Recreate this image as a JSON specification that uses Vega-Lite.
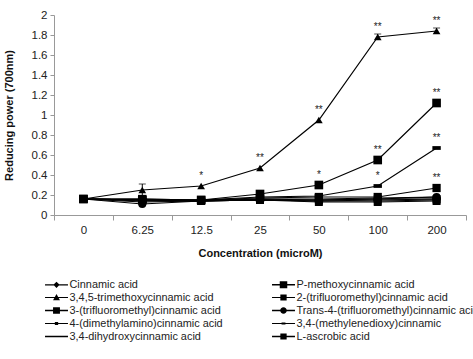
{
  "$schema": "https://vega.github.io/schema/vega-lite/v6.json",
  "width": 412,
  "height": 200,
  "autosize": "none",
  "padding": {"left": 54, "top": 15, "right": 7, "bottom": 144},
  "background": "white",
  "config": {
    "view": {"stroke": null},
    "font": "Liberation Sans",
    "axis": {
      "labelFont": "Liberation Sans",
      "titleFont": "Liberation Sans",
      "labelFontSize": 11.5,
      "titleFontSize": 11,
      "titleFontWeight": "bold",
      "labelColor": "#222",
      "titleColor": "#111",
      "domainColor": "#999",
      "tickColor": "#999",
      "grid": false
    },
    "axisY": {"labelOverlap": false},
    "legend": {
      "labelFont": "Liberation Sans",
      "labelFontSize": 10.9,
      "labelColor": "#222"
    }
  },
  "data": {
    "values": [
      {"s": "Cinnamic acid", "i": 0, "c": "0", "v": 0.16},
      {"s": "Cinnamic acid", "i": 1, "c": "6.25", "v": 0.15},
      {"s": "Cinnamic acid", "i": 2, "c": "12.5", "v": 0.14},
      {"s": "Cinnamic acid", "i": 3, "c": "25", "v": 0.16},
      {"s": "Cinnamic acid", "i": 4, "c": "50", "v": 0.16},
      {"s": "Cinnamic acid", "i": 5, "c": "100", "v": 0.17},
      {"s": "Cinnamic acid", "i": 6, "c": "200", "v": 0.18},

      {"s": "P-methoxycinnamic acid", "i": 0, "c": "0", "v": 0.16},
      {"s": "P-methoxycinnamic acid", "i": 1, "c": "6.25", "v": 0.14},
      {"s": "P-methoxycinnamic acid", "i": 2, "c": "12.5", "v": 0.14},
      {"s": "P-methoxycinnamic acid", "i": 3, "c": "25", "v": 0.15},
      {"s": "P-methoxycinnamic acid", "i": 4, "c": "50", "v": 0.14},
      {"s": "P-methoxycinnamic acid", "i": 5, "c": "100", "v": 0.14},
      {"s": "P-methoxycinnamic acid", "i": 6, "c": "200", "v": 0.15},

      {"s": "3,4,5-trimethoxycinnamic acid", "i": 0, "c": "0", "v": 0.16},
      {"s": "3,4,5-trimethoxycinnamic acid", "i": 1, "c": "6.25", "v": 0.25, "lo": 0.19, "hi": 0.31},
      {"s": "3,4,5-trimethoxycinnamic acid", "i": 2, "c": "12.5", "v": 0.29, "sig": "*"},
      {"s": "3,4,5-trimethoxycinnamic acid", "i": 3, "c": "25", "v": 0.47, "sig": "**"},
      {"s": "3,4,5-trimethoxycinnamic acid", "i": 4, "c": "50", "v": 0.95, "sig": "**"},
      {"s": "3,4,5-trimethoxycinnamic acid", "i": 5, "c": "100", "v": 1.78, "lo": 1.75, "hi": 1.81, "sig": "**"},
      {"s": "3,4,5-trimethoxycinnamic acid", "i": 6, "c": "200", "v": 1.84, "lo": 1.81, "hi": 1.87, "sig": "**"},

      {"s": "2-(trifluoromethyl)cinnamic acid", "i": 0, "c": "0", "v": 0.16},
      {"s": "2-(trifluoromethyl)cinnamic acid", "i": 1, "c": "6.25", "v": 0.16},
      {"s": "2-(trifluoromethyl)cinnamic acid", "i": 2, "c": "12.5", "v": 0.15},
      {"s": "2-(trifluoromethyl)cinnamic acid", "i": 3, "c": "25", "v": 0.16},
      {"s": "2-(trifluoromethyl)cinnamic acid", "i": 4, "c": "50", "v": 0.15},
      {"s": "2-(trifluoromethyl)cinnamic acid", "i": 5, "c": "100", "v": 0.16},
      {"s": "2-(trifluoromethyl)cinnamic acid", "i": 6, "c": "200", "v": 0.16},

      {"s": "3-(trifluoromethyl)cinnamic acid", "i": 0, "c": "0", "v": 0.16},
      {"s": "3-(trifluoromethyl)cinnamic acid", "i": 1, "c": "6.25", "v": 0.15},
      {"s": "3-(trifluoromethyl)cinnamic acid", "i": 2, "c": "12.5", "v": 0.14},
      {"s": "3-(trifluoromethyl)cinnamic acid", "i": 3, "c": "25", "v": 0.15},
      {"s": "3-(trifluoromethyl)cinnamic acid", "i": 4, "c": "50", "v": 0.13},
      {"s": "3-(trifluoromethyl)cinnamic acid", "i": 5, "c": "100", "v": 0.13},
      {"s": "3-(trifluoromethyl)cinnamic acid", "i": 6, "c": "200", "v": 0.14},

      {"s": "Trans-4-(trifluoromethyl)cinnamic acid", "i": 0, "c": "0", "v": 0.16},
      {"s": "Trans-4-(trifluoromethyl)cinnamic acid", "i": 1, "c": "6.25", "v": 0.11},
      {"s": "Trans-4-(trifluoromethyl)cinnamic acid", "i": 2, "c": "12.5", "v": 0.14},
      {"s": "Trans-4-(trifluoromethyl)cinnamic acid", "i": 3, "c": "25", "v": 0.15},
      {"s": "Trans-4-(trifluoromethyl)cinnamic acid", "i": 4, "c": "50", "v": 0.15},
      {"s": "Trans-4-(trifluoromethyl)cinnamic acid", "i": 5, "c": "100", "v": 0.16},
      {"s": "Trans-4-(trifluoromethyl)cinnamic acid", "i": 6, "c": "200", "v": 0.18},

      {"s": "4-(dimethylamino)cinnamic acid", "i": 0, "c": "0", "v": 0.16},
      {"s": "4-(dimethylamino)cinnamic acid", "i": 1, "c": "6.25", "v": 0.16},
      {"s": "4-(dimethylamino)cinnamic acid", "i": 2, "c": "12.5", "v": 0.15},
      {"s": "4-(dimethylamino)cinnamic acid", "i": 3, "c": "25", "v": 0.17},
      {"s": "4-(dimethylamino)cinnamic acid", "i": 4, "c": "50", "v": 0.18},
      {"s": "4-(dimethylamino)cinnamic acid", "i": 5, "c": "100", "v": 0.18},
      {"s": "4-(dimethylamino)cinnamic acid", "i": 6, "c": "200", "v": 0.27, "sig": "**"},

      {"s": "3,4-(methylenedioxy)cinnamic", "i": 0, "c": "0", "v": 0.16},
      {"s": "3,4-(methylenedioxy)cinnamic", "i": 1, "c": "6.25", "v": 0.15},
      {"s": "3,4-(methylenedioxy)cinnamic", "i": 2, "c": "12.5", "v": 0.15},
      {"s": "3,4-(methylenedioxy)cinnamic", "i": 3, "c": "25", "v": 0.18},
      {"s": "3,4-(methylenedioxy)cinnamic", "i": 4, "c": "50", "v": 0.19},
      {"s": "3,4-(methylenedioxy)cinnamic", "i": 5, "c": "100", "v": 0.29, "sig": "*"},
      {"s": "3,4-(methylenedioxy)cinnamic", "i": 6, "c": "200", "v": 0.67, "sig": "**"},

      {"s": "3,4-dihydroxycinnamic acid", "i": 0, "c": "0", "v": 0.16},
      {"s": "3,4-dihydroxycinnamic acid", "i": 1, "c": "6.25", "v": 0.13},
      {"s": "3,4-dihydroxycinnamic acid", "i": 2, "c": "12.5", "v": 0.14},
      {"s": "3,4-dihydroxycinnamic acid", "i": 3, "c": "25", "v": 0.15},
      {"s": "3,4-dihydroxycinnamic acid", "i": 4, "c": "50", "v": 0.14},
      {"s": "3,4-dihydroxycinnamic acid", "i": 5, "c": "100", "v": 0.15},
      {"s": "3,4-dihydroxycinnamic acid", "i": 6, "c": "200", "v": 0.16},

      {"s": "L-ascrobic acid", "i": 0, "c": "0", "v": 0.16},
      {"s": "L-ascrobic acid", "i": 1, "c": "6.25", "v": 0.15},
      {"s": "L-ascrobic acid", "i": 2, "c": "12.5", "v": 0.15},
      {"s": "L-ascrobic acid", "i": 3, "c": "25", "v": 0.21},
      {"s": "L-ascrobic acid", "i": 4, "c": "50", "v": 0.30, "sig": "*"},
      {"s": "L-ascrobic acid", "i": 5, "c": "100", "v": 0.55, "sig": "**"},
      {"s": "L-ascrobic acid", "i": 6, "c": "200", "v": 1.12, "sig": "**"}
    ]
  },
  "encoding": {
    "x": {
      "field": "c",
      "type": "ordinal",
      "sort": ["0", "6.25", "12.5", "25", "50", "100", "200"],
      "scale": {"type": "band", "paddingInner": 0, "paddingOuter": 0},
      "axis": {
        "title": "Concentration (microM)",
        "labelAngle": 0,
        "tickBand": "extent",
        "tickSize": 5,
        "labelPadding": 4,
        "titlePadding": 12
      }
    },
    "y": {
      "field": "v",
      "type": "quantitative",
      "scale": {"domain": [0, 2]},
      "axis": {
        "title": "Reducing power (700nm)",
        "values": [0, 0.2, 0.4, 0.6, 0.8, 1, 1.2, 1.4, 1.6, 1.8, 2],
        "format": ".1~f",
        "labelOverlap": false,
        "tickSize": 4,
        "labelPadding": 3,
        "titlePadding": 17
      }
    }
  },
  "layer": [
    {
      "mark": {"type": "line", "color": "black", "strokeWidth": 1.2},
      "encoding": {
        "detail": {"field": "s"},
        "order": {"field": "i"}
      }
    },
    {
      "transform": [{"filter": "isValid(datum.hi)"}],
      "mark": {"type": "rule", "color": "black", "strokeWidth": 1},
      "encoding": {
        "y": {"field": "lo", "type": "quantitative", "title": "Reducing power (700nm)"},
        "y2": {"field": "hi"}
      }
    },
    {
      "transform": [{"filter": "isValid(datum.hi)"}],
      "mark": {"type": "tick", "color": "black", "size": 7, "thickness": 1},
      "encoding": {
        "y": {"field": "hi", "type": "quantitative", "title": "Reducing power (700nm)"}
      }
    },
    {
      "mark": {"type": "point", "filled": true, "color": "black", "opacity": 1},
      "encoding": {
        "shape": {
          "field": "s",
          "type": "nominal",
          "scale": {
            "domain": ["Cinnamic acid", "P-methoxycinnamic acid", "3,4,5-trimethoxycinnamic acid", "2-(trifluoromethyl)cinnamic acid", "3-(trifluoromethyl)cinnamic acid", "Trans-4-(trifluoromethyl)cinnamic acid", "4-(dimethylamino)cinnamic acid", "3,4-(methylenedioxy)cinnamic", "3,4-dihydroxycinnamic acid", "L-ascrobic acid"],
            "range": ["diamond", "square", "triangle-up", "square", "square", "circle", "square", "M-1,-0.45H1V0.45H-1Z", "M-1,-0.3H1V0.3H-1Z", "square"]
          },
          "legend": null
        },
        "size": {
          "field": "s",
          "type": "nominal",
          "scale": {
            "domain": ["Cinnamic acid", "P-methoxycinnamic acid", "3,4,5-trimethoxycinnamic acid", "2-(trifluoromethyl)cinnamic acid", "3-(trifluoromethyl)cinnamic acid", "Trans-4-(trifluoromethyl)cinnamic acid", "4-(dimethylamino)cinnamic acid", "3,4-(methylenedioxy)cinnamic", "3,4-dihydroxycinnamic acid", "L-ascrobic acid"],
            "range": [55, 75, 70, 60, 65, 60, 28, 36, 30, 80]
          },
          "legend": null
        }
      }
    },
    {
      "transform": [{"filter": "datum.i == 0"}],
      "mark": {"type": "point", "filled": true, "color": "black", "opacity": 0},
      "encoding": {
        "shape": {
          "field": "s",
          "type": "nominal",
          "scale": {
            "domain": ["Cinnamic acid", "P-methoxycinnamic acid", "3,4,5-trimethoxycinnamic acid", "2-(trifluoromethyl)cinnamic acid", "3-(trifluoromethyl)cinnamic acid", "Trans-4-(trifluoromethyl)cinnamic acid", "4-(dimethylamino)cinnamic acid", "3,4-(methylenedioxy)cinnamic", "3,4-dihydroxycinnamic acid", "L-ascrobic acid"],
            "range": [
              "M-1.53,-0.08H1.53V0.08H-1.53ZM0,-0.42L0.42,0L0,0.42L-0.42,0Z",
              "M-1.53,-0.1H1.53V0.1H-1.53ZM-0.5,-0.46H0.5V0.46H-0.5Z",
              "M-1.53,-0.08H1.53V0.08H-1.53ZM0,-0.46L0.46,0.36H-0.46Z",
              "M-1.53,-0.08H1.53V0.08H-1.53ZM-0.42,-0.4H0.42V0.4H-0.42Z",
              "M-1.53,-0.1H1.53V0.1H-1.53ZM-0.46,-0.43H0.46V0.43H-0.46Z",
              "M-1.53,-0.09H1.53V0.09H-1.53ZM0.44,0A0.44,0.44,0,1,1,-0.44,0A0.44,0.44,0,1,1,0.44,0Z",
              "M-1.53,-0.08H1.53V0.08H-1.53ZM-0.22,-0.21H0.22V0.21H-0.22Z",
              "M-1.53,-0.08H1.53V0.08H-1.53ZM-0.26,-0.12H0.26V0.12H-0.26Z",
              "M-1.53,-0.09H1.53V0.09H-1.53ZM-0.5,-0.11H0.5V0.11H-0.5Z",
              "M-1.53,-0.1H1.53V0.1H-1.53ZM-0.42,-0.4H0.42V0.4H-0.42Z"
            ]
          },
          "legend": {
            "title": null,
            "orient": "none",
            "legendX": -5,
            "legendY": 262,
            "direction": "horizontal",
            "columns": 2,
            "columnPadding": 49,
            "rowPadding": 0,
            "padding": 0,
            "symbolSize": 225,
            "symbolOpacity": 1,
            "symbolFillColor": "black",
            "symbolStrokeWidth": 0,
            "labelOffset": 5.5,
            "labelLimit": 400
          }
        }
      }
    },
    {
      "transform": [{"filter": "isValid(datum.sig)"}],
      "mark": {"type": "text", "fill": "#222", "fontSize": 10, "baseline": "middle", "dy": -10, "font": "Liberation Sans"},
      "encoding": {
        "text": {"field": "sig"}
      }
    }
  ],
  "resolve": {"scale": {"shape": "independent"}}
}
